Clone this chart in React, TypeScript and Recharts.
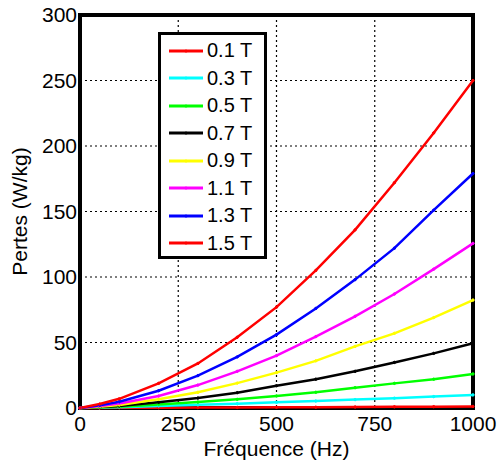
import React from "react";
import { LineChart, Line, XAxis, YAxis, CartesianGrid, ReferenceArea } from "recharts";

const frequencies = [0, 50, 100, 200, 300, 400, 500, 600, 700, 800, 900, 1000];
const b01 = [0, 0.05, 0.1, 0.2, 0.3, 0.4, 0.5, 0.6, 0.75, 0.9, 1.0, 1.2];
const b03 = [0, 0.3, 0.6, 1.5, 2.4, 3.3, 4.3, 5.3, 6.4, 7.5, 8.7, 10];
const b05 = [0, 0.5, 1.0, 2.7, 4.5, 6.6, 9.2, 12, 15.5, 18.8, 22, 26];
const b07 = [0, 0.7, 1.5, 4.3, 7.6, 11.7, 17, 22, 28, 34.8, 41.7, 49.4];
const b09 = [0, 1.0, 2.3, 6.6, 12, 19, 27, 36, 47, 57, 69, 82.4];
const b11 = [0, 1.5, 3.5, 9.2, 17.5, 28, 40, 54.5, 70, 87, 106, 125.7];
const b13 = [0, 2.0, 4.8, 13.2, 24.7, 39, 56, 76, 98, 122, 151, 179];
const b15 = [0, 3.0, 7.0, 18.8, 34, 54, 77, 105, 136, 172, 210, 250];

const seriesNames = ["0.1 T", "0.3 T", "0.5 T", "0.7 T", "0.9 T", "1.1 T", "1.3 T", "1.5 T"];
const seriesColors = ["#ff0000", "#00ffff", "#00ff00", "#000000", "#ffff00", "#ff00ff", "#0000ff", "#ff0000"];
const seriesValues = [b01, b03, b05, b07, b09, b11, b13, b15];

const xTicks = [0, 250, 500, 750, 1000];
const yTicks = [0, 50, 100, 150, 200, 250, 300];

const data = frequencies.map((f, i) => {
  const row: Record<string, number> = { f };
  seriesValues.forEach((vals, k) => {
    row["s" + k] = vals[i];
  });
  return row;
});

const FONT = "'Liberation Sans', Arial, sans-serif";

const LegendBox = () => (
  <div
    style={{
      position: "absolute",
      left: 158,
      top: 32,
      width: 103,
      height: 219,
      border: "3px solid #000",
      background: "#fff",
      fontFamily: FONT,
      fontSize: 20,
      color: "#000",
      boxSizing: "content-box",
      paddingTop: 2,
    }}
  >
    {seriesNames.map((n, k) => (
      <div key={k} style={{ display: "flex", alignItems: "center", height: 27.5 }}>
        <svg width={44} height={10} style={{ marginLeft: 6 }}>
          <line x1={2} y1={5} x2={36} y2={5} stroke={seriesColors[k]} strokeWidth={3} />
          <circle cx={19} cy={5} r={1.5} fill={seriesColors[k]} />
        </svg>
        <span style={{ marginLeft: -4 }}>{n}</span>
      </div>
    ))}
  </div>
);

export default function App() {
  return (
    <div style={{ position: "absolute", left: 0, top: 0, width: 503, height: 461 }}>
      <LineChart
        width={503}
        height={461}
        data={data}
        margin={{ top: 15, right: 30, left: 0, bottom: 0 }}
        style={{ background: "#fff" }}
      >
        <CartesianGrid stroke="#000" strokeDasharray="2 3" strokeWidth={1.2} />
        <XAxis
          dataKey="f"
          type="number"
          domain={[0, 1000]}
          ticks={xTicks}
          interval={0}
          axisLine={false}
          tickLine={false}
          tickSize={0}
          tickMargin={8}
          height={53}
          tick={{ fill: "#000", fontSize: 21, fontFamily: FONT }}
          label={{
            value: "Fréquence (Hz)",
            position: "insideBottom",
            offset: 5,
            fill: "#000",
            fontSize: 21,
            fontFamily: FONT,
          }}
        />
        <YAxis
          type="number"
          domain={[0, 300]}
          ticks={yTicks}
          interval={0}
          axisLine={false}
          tickLine={false}
          tickSize={0}
          tickMargin={3}
          width={80}
          tick={{ fill: "#000", fontSize: 21, fontFamily: FONT }}
          label={{
            value: "Pertes (W/kg)",
            angle: -90,
            position: "insideLeft",
            offset: 20,
            style: { textAnchor: "middle" },
            fill: "#000",
            fontSize: 21,
            fontFamily: FONT,
          }}
        />
        {seriesNames.map((n, k) => (
          <Line
            key={k}
            dataKey={"s" + k}
            name={n}
            stroke={seriesColors[k]}
            strokeWidth={2.5}
            type="linear"
            dot={{ r: 1.2, fill: seriesColors[k], stroke: seriesColors[k], strokeWidth: 1 }}
            activeDot={false}
            isAnimationActive={false}
          />
        ))}
        <ReferenceArea
          x1={0}
          x2={1000}
          y1={0}
          y2={300}
          fill="none"
          stroke="#000"
          strokeWidth={4}
          ifOverflow="visible"
        />
      </LineChart>
      <LegendBox />
    </div>
  );
}
